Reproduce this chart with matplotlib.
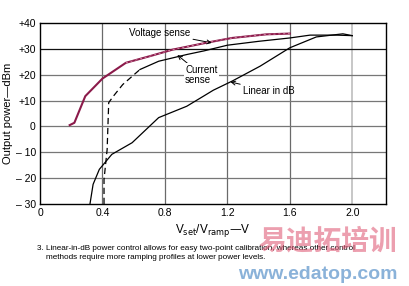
import matplotlib
matplotlib.use("Agg")
import matplotlib.pyplot as plt

# Data
volt_x = [0.19, 0.22, 0.29, 0.40, 0.55, 0.70, 0.85, 1.07, 1.23, 1.45, 1.60]
volt_y = [0.5, 1.4, 11.7, 18.5, 24.6, 27.1, 29.7, 32.4, 34.2, 35.6, 35.9]

cur_dash_x = [0.41, 0.41, 0.43, 0.44, 0.47, 0.53, 0.64]
cur_dash_y = [-30, -20.5, -8.9, 9.2, 11.7, 16.2, 22.0]
cur_x = [0.64, 0.76, 0.94, 1.05, 1.20, 1.40, 1.60, 1.73, 1.90, 2.00]
cur_y = [22.0, 25.2, 27.8, 29.2, 31.4, 32.9, 34.2, 35.3, 35.3, 35.1]

lin_x = [0.32, 0.34, 0.38, 0.46, 0.59, 0.76, 0.94, 1.05, 1.11, 1.23, 1.41, 1.60, 1.77, 1.94, 2.00]
lin_y = [-30, -22.4, -16.6, -10.8, -6.3, 3.4, 7.8, 11.8, 14.0, 17.5, 23.3, 30.4, 34.6, 35.8, 35.1]

xticks = [0, 0.4, 0.8, 1.2, 1.6, 2.0]
xticklabels = ["0", "0.4", "0.8", "1.2", "1.6", "2.0"]
yticks = [-30, -20, -10, 0, 10, 20, 30, 40]
yticklabels = ["\u2013 30", "\u2013 20", "\u2013 10", "0", "+10", "+20", "+30", "+40"]

plt.rcParams['font.family'] = ['Liberation Sans', 'DejaVu Sans']
fig = plt.figure(figsize=(4.1, 2.86), dpi=100)
ax = fig.add_axes([0.0976, 0.2867, 0.8434, 0.633])
ax.set_xlim(0, 2.215)
ax.set_ylim(-30, 40)

# grid
for xv in [0.4, 0.8, 1.2, 1.6]:
    ax.axvline(xv, color='#6a6a6a', lw=0.9, zorder=1)
ax.axvline(2.0, color='#bdbdbd', lw=1.2, zorder=1)
for yv in [-20, -10, 0, 10, 20]:
    ax.axhline(yv, color='#777777', lw=0.9, zorder=1)
ax.axhline(30, color='#111111', lw=0.9, zorder=1)

ax.plot(volt_x, volt_y, color='#8b1a4a', lw=1.5, zorder=3)
ax.plot(volt_x[4:], volt_y[4:], color='#e6a0bb', lw=0.5, ls=(0, (3, 4)), zorder=4)
ax.plot(cur_dash_x, cur_dash_y, color='black', lw=0.9, ls=(0, (5, 3)), zorder=3)
ax.plot(cur_x, cur_y, color='black', lw=0.9, zorder=3)
ax.plot(lin_x, lin_y, color='black', lw=0.9, zorder=3)

ax.set_xticks(xticks)
ax.set_xticklabels(xticklabels, fontsize=7.5)
ax.set_yticks(yticks)
ax.set_yticklabels(yticklabels, fontsize=7.5)
ax.tick_params(length=0, pad=3)
for s in ax.spines.values():
    s.set_linewidth(1.0)
    s.set_color('black')

ax.set_ylabel("Output power\u2014dBm", fontsize=8, labelpad=2)
ax.set_xlabel("V$_{\\rm set}$/V$_{\\rm ramp}$\u2014V", fontsize=8.5, labelpad=3)

ap = dict(arrowstyle='->', color='black', lw=0.7, shrinkA=0, shrinkB=0)
ax.annotate("Voltage sense", xy=(1.10, 32.3), xytext=(0.57, 36.2), fontsize=7,
            va='center', ha='left', arrowprops=ap)
ax.annotate("Current\nsense", xy=(0.88, 27.6), xytext=(0.93, 20.0), fontsize=7,
            va='center', ha='left', linespacing=1.0, arrowprops=ap,
            bbox=dict(boxstyle='square,pad=0.15', fc='white', ec='none'))
ax.annotate("Linear in dB", xy=(1.22, 17.2), xytext=(1.30, 13.7), fontsize=7,
            va='center', ha='left', arrowprops=ap)

fig.text(0.09, 0.115, "3. Linear-in-dB power control allows for easy two-point calibration, whereas other control\n"
         "    methods require more ramping profiles at lower power levels.",
         fontsize=5.9, va='center', ha='left', linespacing=1.25, zorder=1)

# watermark
fig.text(0.63, 0.155, "易迪拓培训", fontsize=20, color='#e0607a', alpha=0.6,
         family=['Noto Sans CJK SC'], weight='bold', va='center', ha='left', zorder=2)
fig.text(0.58, 0.04, "www.edatop.com", fontsize=14, color='#3d7fc0', alpha=0.6,
         weight='bold', va='center', ha='left', zorder=2)

fig.savefig("out.png", dpi=100)
